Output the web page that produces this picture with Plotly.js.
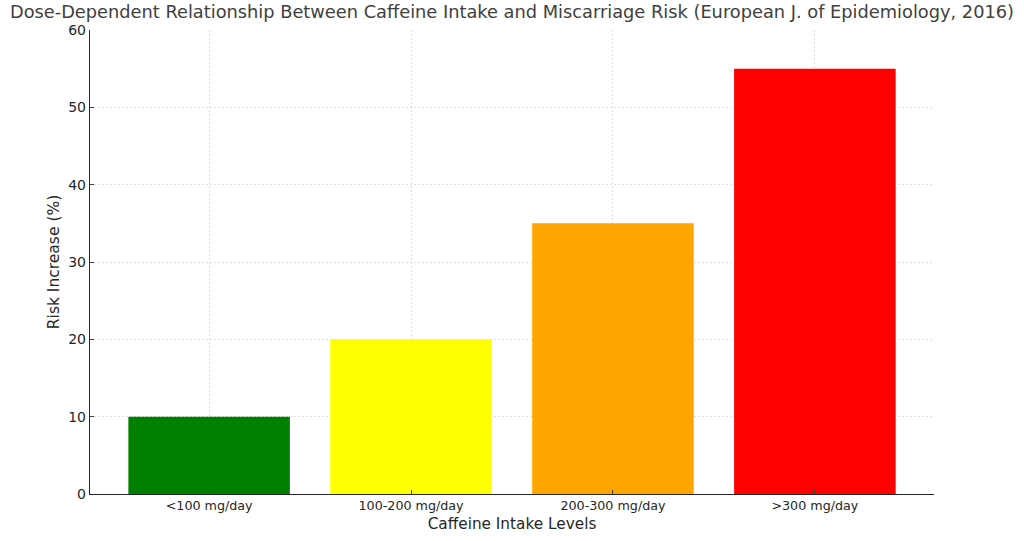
<!DOCTYPE html>
<html>
<head>
<meta charset="utf-8">
<script src="https://cdn.plot.ly/plotly-3.0.1.min.js"></script>
<style>html,body{margin:0;padding:0;background:#fff;}#chart{width:1024px;height:541px;}</style>
</head>
<body>
<div id="chart"></div>
<script>
const categories = ["<100 mg/day", "100-200 mg/day", "200-300 mg/day", ">300 mg/day"];
const riskIncrease = [10, 20, 35, 55];
const barColors = ["green", "yellow", "orange", "red"];
const yTicks = [0, 10, 20, 30, 40, 50, 60];

const font = "DejaVu Sans, sans-serif";
const trace = {
  type: "bar",
  x: categories.map((c, i) => i),
  y: riskIncrease,
  width: 0.8,
  marker: {color: barColors, line: {width: 0}},
  hoverinfo: "x+y"
};
const layout = {
  width: 1024, height: 541,
  margin: {l: 90, r: 90, t: 30, b: 47},
  paper_bgcolor: "#fff", plot_bgcolor: "#fff",
  showlegend: false,
  font: {family: font, color: "#262626"},
  title: {text: "Dose-Dependent Relationship Between Caffeine Intake and Miscarriage Risk (European J. of Epidemiology, 2016)",
          font: {family: font, size: 17.8, color: "#404040"}, x: 0.5, xanchor: "center", y: 0.99, yanchor: "top"},
  xaxis: {
    range: [-0.59, 3.59],
    tickvals: categories.map((c, i) => i),
    ticktext: categories,
    tickfont: {size: 12.7, color: "#262626"},
    ticks: "inside", ticklen: 4, tickcolor: "#404040",
    showline: true, linecolor: "#262626", linewidth: 1.2,
    showgrid: true, gridcolor: "#d4d4d4", griddash: "2px,2px", gridwidth: 0.8,
    zeroline: false, layer: "above traces",
    title: {text: "Caffeine Intake Levels", font: {size: 15.3, color: "#262626"}, standoff: 5}
  },
  yaxis: {
    range: [0, 60],
    tickvals: yTicks,
    tickfont: {size: 14, color: "#262626"},
    ticks: "inside", ticklen: 4, tickcolor: "#404040",
    showline: true, linecolor: "#262626", linewidth: 1.2,
    showgrid: true, gridcolor: "#d4d4d4", griddash: "2px,2px", gridwidth: 0.8,
    zeroline: false, layer: "above traces",
    title: {text: "Risk Increase (%)", font: {size: 15.5, color: "#262626"}, standoff: 4}
  },
  bargap: 0.2
};
Plotly.newPlot("chart", [trace], layout, {displayModeBar: false, staticPlot: true});
</script>
</body>
</html>
